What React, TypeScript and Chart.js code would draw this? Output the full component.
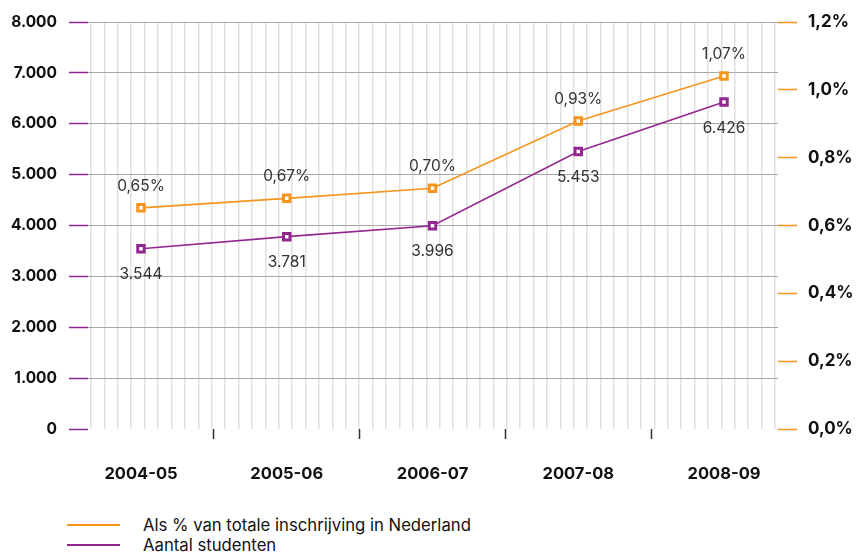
import React, { useEffect, useRef } from 'react';
import { Chart, registerables } from 'chart.js';

Chart.register(...registerables);

const categories = ['2004-05', '2005-06', '2006-07', '2007-08', '2008-09'];
const students = [3544, 3781, 3996, 5453, 6426];
const studentLabels = ['3.544', '3.781', '3.996', '5.453', '6.426'];
const percentShare = [0.652, 0.68, 0.71, 0.908, 1.041];
const percentLabels = ['0,65%', '0,67%', '0,70%', '0,93%', '1,07%'];
const legendLabels = ['Als % van totale inschrijving in Nederland', 'Aantal studenten'];

const ORANGE = '#F7941D';
const PURPLE = '#92278F';
const FONT = 'Inter';

const valueLabels = {
  id: 'valueLabels',
  afterDatasetsDraw(chart: any) {
    const ctx = chart.ctx;
    ctx.save();
    ctx.font = `15.5px ${FONT}`;
    ctx.fillStyle = '#333';
    ctx.textAlign = 'center';
    ctx.textBaseline = 'middle';
    chart.data.datasets.forEach((ds: any, i: number) => {
      const meta = chart.getDatasetMeta(i);
      meta.data.forEach((pt: any, j: number) => {
        ctx.fillText(ds.valueText[j], pt.x, pt.y + ds.valueOffset);
      });
    });
    ctx.restore();
  },
};

export default function App() {
  const ref = useRef<HTMLCanvasElement>(null);
  useEffect(() => {
    const chart = new Chart(ref.current as HTMLCanvasElement, {
      type: 'line',
      data: {
        datasets: [
          {
            label: legendLabels[0],
            data: percentShare.map((v, i) => ({ x: i, y: v })),
            yAxisID: 'y1',
            borderColor: ORANGE,
            backgroundColor: '#fff',
            borderWidth: 1.6,
            pointStyle: 'rect',
            pointRadius: 4.6,
            pointBorderWidth: 3,
            pointBorderColor: ORANGE,
            pointBackgroundColor: '#fff',
            tension: 0,
            valueText: percentLabels,
            valueOffset: -22,
          } as any,
          {
            label: legendLabels[1],
            data: students.map((v, i) => ({ x: i, y: v })),
            yAxisID: 'y',
            borderColor: PURPLE,
            backgroundColor: '#fff',
            borderWidth: 1.6,
            pointStyle: 'rect',
            pointRadius: 4.6,
            pointBorderWidth: 3,
            pointBorderColor: PURPLE,
            pointBackgroundColor: '#fff',
            tension: 0,
            valueText: studentLabels,
            valueOffset: 26,
          } as any,
        ],
      },
      options: {
        animation: false,
        responsive: false,
        layout: { padding: { top: 22, left: 0, right: 0, bottom: 0 } },
        plugins: { legend: { display: false }, tooltip: { enabled: false } },
        scales: {
          x: {
            type: 'linear',
            position: 'bottom',
            min: -0.3636,
            max: 4.3705,
            afterBuildTicks: (s: any) => {
              const t: any[] = [];
              for (let i = 0; i <= categories.length - 1; i += 0.5) t.push({ value: i });
              s.ticks = t;
            },
            afterFit: (s: any) => { s.height = 71; },
            border: { display: false },
            grid: {
              drawOnChartArea: false,
              drawTicks: true,
              tickLength: 10,
              tickWidth: 1.5,
              tickColor: (c: any) => (c.tick && c.tick.value % 1 === 0 ? 'rgba(0,0,0,0)' : '#333'),
            },
            ticks: {
              autoSkip: false,
              maxRotation: 0,
              padding: 25,
              color: '#111',
              font: { family: FONT, size: 16.5, weight: 'bold' },
              callback: (v: any) => (Number(v) % 1 === 0 ? categories[Number(v)] : ''),
            },
          },
          xg: {
            type: 'linear',
            position: 'top',
            min: -0.224,
            max: 51.224,
            afterBuildTicks: (s: any) => {
              const t: any[] = [];
              for (let i = 0; i <= 51; i++) t.push({ value: i });
              s.ticks = t;
            },
            afterFit: (s: any) => { s.height = 0; },
            border: { display: false },
            grid: { color: '#e0e0e0', lineWidth: 1.5, drawTicks: false },
            ticks: { display: false },
          },
          y: {
            type: 'linear',
            position: 'left',
            min: 0,
            max: 8000,
            afterFit: (s: any) => { s.width = 88; },
            border: { display: false },
            grid: {
              color: (c: any) => (c.tick && c.tick.value === 0 ? 'rgba(0,0,0,0)' : '#a8a8a8'),
              lineWidth: 1,
              drawTicks: true,
              tickLength: 19,
              tickColor: PURPLE,
              tickWidth: 1.5,
            },
            ticks: {
              stepSize: 1000,
              padding: 12,
              color: '#111',
              font: { family: FONT, size: 15.5, weight: 'bold' },
              callback: (v: any) => Number(v).toLocaleString('de-DE'),
            },
          },
          y1: {
            type: 'linear',
            position: 'right',
            min: 0,
            max: 1.2,
            afterFit: (s: any) => { s.width = 79; },
            border: { display: false },
            grid: {
              drawOnChartArea: false,
              drawTicks: true,
              tickLength: 19,
              tickColor: ORANGE,
              tickWidth: 1.5,
            },
            ticks: {
              stepSize: 0.2,
              padding: 11,
              color: '#111',
              font: { family: FONT, size: 17, weight: 'bold' },
              callback: (v: any) => Number(v).toFixed(1).replace('.', ',') + '%',
            },
          },
        },
      } as any,
      plugins: [valueLabels],
    });
    return () => chart.destroy();
  }, []);

  const legendItem = (color: string, text: string, top: number) => (
    <div style={{ position: 'absolute', left: 0, top, height: 20, width: 857 }}>
      <div style={{ position: 'absolute', left: 67, top: 9, width: 53, height: 2, background: color }} />
      <div
        style={{
          position: 'absolute',
          left: 143,
          top: 0,
          lineHeight: '20px',
          fontFamily: FONT,
          fontSize: 16.7,
          color: '#111',
          whiteSpace: 'nowrap',
        }}
      >
        {text}
      </div>
    </div>
  );

  return (
    <div style={{ position: 'fixed', left: 0, top: 0, width: 857, height: 557, background: '#fff' }}>
      <canvas ref={ref} width={857} height={500} style={{ display: 'block', width: 857, height: 500 }} />
      {legendItem(ORANGE, legendLabels[0], 515)}
      {legendItem(PURPLE, legendLabels[1], 535)}
    </div>
  );
}
